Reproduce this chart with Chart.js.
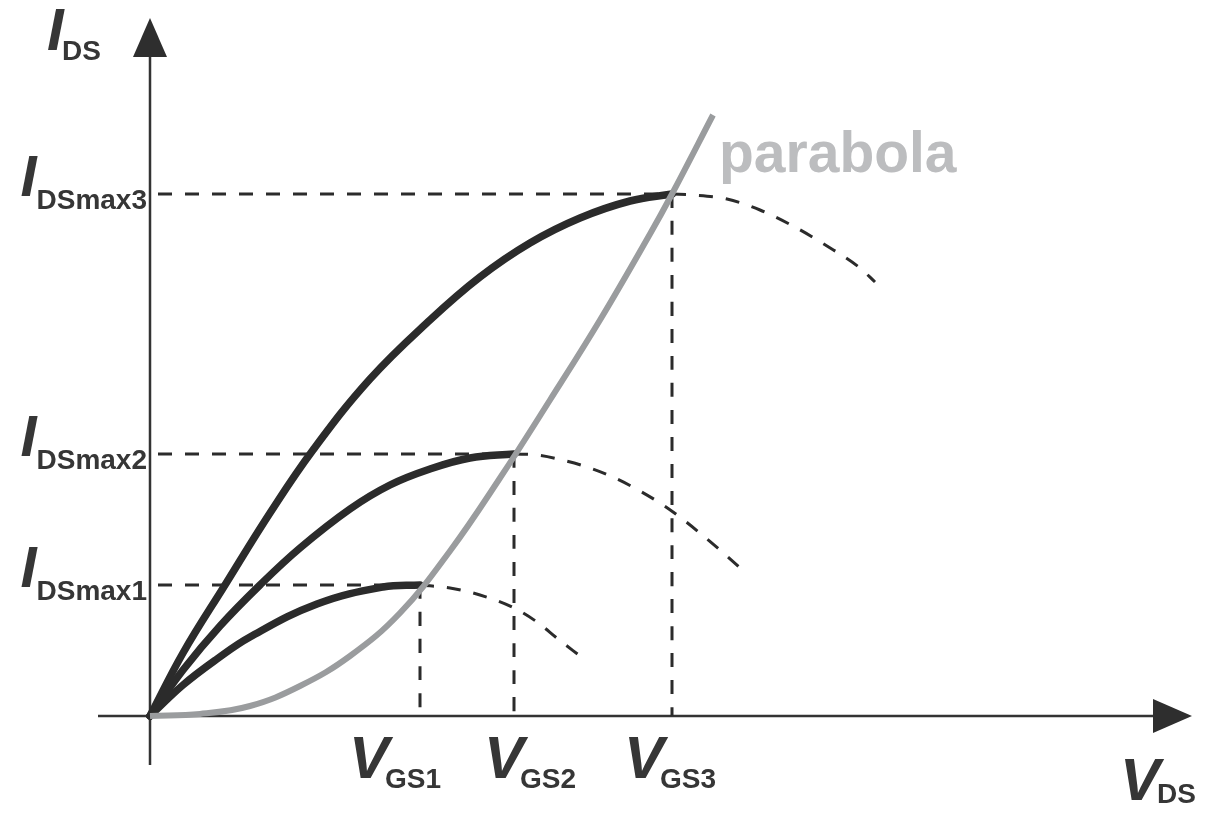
<!DOCTYPE html>
<html>
<head>
<meta charset="utf-8">
<script src="https://cdn.jsdelivr.net/npm/chart.js@4.4.1/dist/chart.umd.min.js"></script>
<style>
  html, body { margin: 0; padding: 0; background: #ffffff; }
  #wrap { width: 1214px; height: 815px; }
</style>
</head>
<body>
<div id="wrap"><canvas id="c" width="1214" height="815"></canvas></div>
<script>
// Operating points: gate voltages and the saturation currents they reach
const vgsValues    = [2.70, 3.64, 5.22];
const idsMaxValues = [1.31, 2.62, 5.22];
const vgsTickLabels = ['GS1', 'GS2', 'GS3'];
const idsTickLabels = ['DSmax1', 'DSmax2', 'DSmax3'];
const xAxisTitle = ['V', 'DS'];
const yAxisTitle = ['I', 'DS'];
const curveTitle = 'parabola';
const vdsRange = [-0.52, 10.42];
const idsRange = [-0.49, 6.98];

// Triode-region characteristics (solid part up to the peak)
const curve1V = [0, 0.33, 0.67, 1.00, 1.67, 2.33, 2.70];
const curve1I = [0, 0.31, 0.57, 0.79, 1.12, 1.29, 1.31];
const curve2V = [0, 0.33, 0.70, 1.10, 1.50, 2.00, 2.40, 2.80, 3.20, 3.64];
const curve2I = [0, 0.46, 0.90, 1.31, 1.68, 2.07, 2.31, 2.47, 2.58, 2.62];
const curve3V = [0, 0.33, 0.75, 1.20, 1.63, 2.20, 2.80, 3.30, 3.80, 4.30, 4.80, 5.22];
const curve3I = [0, 0.63, 1.31, 2.03, 2.66, 3.37, 3.96, 4.39, 4.73, 4.98, 5.15, 5.22];

// Continuation of each characteristic past its peak (dashed)
const tail1V = [2.70, 3.00, 3.30, 3.62, 3.87, 4.08, 4.30];
const tail1I = [1.31, 1.28, 1.21, 1.09, 0.94, 0.77, 0.60];
const tail2V = [3.64, 3.87, 4.12, 4.40, 4.65, 4.90, 5.13, 5.35, 5.57, 5.78, 5.98];
const tail2I = [2.62, 2.61, 2.56, 2.48, 2.38, 2.25, 2.11, 1.95, 1.77, 1.59, 1.41];
const tail3V = [5.22, 5.43, 5.77, 6.10, 6.43, 6.77, 7.10, 7.25];
const tail3I = [5.22, 5.21, 5.17, 5.06, 4.90, 4.70, 4.48, 4.34];

// Saturation boundary
const parabolaV = [0, 0.50, 1.00, 1.50, 2.00, 2.50, 3.00, 3.50, 4.00, 4.50, 5.00, 5.22, 5.63];
const parabolaI = [0, 0.02, 0.10, 0.30, 0.60, 1.03, 1.65, 2.38, 3.16, 3.96, 4.82, 5.22, 6.01];

const INK = '#2b2b2b';
const GREY = '#9a9c9e';
const TEXT = '#363636';

const pts = (xs, ys) => xs.map((x, i) => ({ x, y: ys[i] }));

function solid(xs, ys) {
  return {
    data: pts(xs, ys), showLine: true, borderColor: INK, borderWidth: 7.5,
    pointRadius: 0, tension: 0.4, borderCapStyle: 'round', borderJoinStyle: 'round',
    fill: false, clip: false, order: 2
  };
}
function dashed(data) {
  return {
    data, showLine: true, borderColor: INK, borderWidth: 3, borderDash: [14, 13],
    pointRadius: 0, cubicInterpolationMode: 'monotone', fill: false, clip: false, order: 3
  };
}

const datasets = [];
// guide lines to the axes
vgsValues.forEach((v, i) => {
  datasets.push(dashed([{ x: 0.08, y: idsMaxValues[i] }, { x: v, y: idsMaxValues[i] }]));
  datasets.push(dashed([{ x: v, y: idsMaxValues[i] }, { x: v, y: 0 }]));
});
datasets.push(dashed(pts(tail1V, tail1I)));
datasets.push(dashed(pts(tail2V, tail2I)));
datasets.push(dashed(pts(tail3V, tail3I)));
datasets.push(solid(curve1V, curve1I));
datasets.push(solid(curve2V, curve2I));
datasets.push(solid(curve3V, curve3I));
datasets.push({
  data: pts(parabolaV, parabolaI), showLine: true, borderColor: GREY, borderWidth: 6,
  pointRadius: 0, tension: 0.4, fill: false, clip: false, order: 1
});

// Axes with arrow heads, plus all axis and curve labels
const annotate = {
  id: 'annotate',
  beforeDatasetsDraw(chart) {
    const { ctx, scales: { x, y } } = chart;
    const ox = x.getPixelForValue(0), oy = y.getPixelForValue(0);
    const xL = x.getPixelForValue(vdsRange[0]), xR = x.getPixelForValue(vdsRange[1]);
    const yB = y.getPixelForValue(idsRange[0]), yT = y.getPixelForValue(idsRange[1]);
    ctx.save();
    ctx.strokeStyle = '#333333';
    ctx.fillStyle = '#2e2e2e';
    ctx.lineWidth = 2.5;
    ctx.beginPath();
    ctx.moveTo(xL, oy); ctx.lineTo(xR - 30, oy);
    ctx.moveTo(ox, yB); ctx.lineTo(ox, yT + 30);
    ctx.stroke();
    ctx.beginPath();
    ctx.moveTo(xR, oy); ctx.lineTo(xR - 39, oy - 17); ctx.lineTo(xR - 39, oy + 17); ctx.closePath();
    ctx.fill();
    ctx.beginPath();
    ctx.moveTo(ox, yT); ctx.lineTo(ox - 17, yT + 39); ctx.lineTo(ox + 17, yT + 39); ctx.closePath();
    ctx.fill();
    ctx.restore();
  },
  afterDatasetsDraw(chart) {
    const { ctx, scales: { x, y } } = chart;
    const ox = x.getPixelForValue(0), oy = y.getPixelForValue(0);
    const big = (s) => `italic bold ${s}px "Liberation Sans", Arial, sans-serif`;
    const sub = 'bold 28px "Liberation Sans", Arial, sans-serif';
    ctx.save();
    ctx.fillStyle = TEXT;
    ctx.textBaseline = 'alphabetic';

    // current levels on the vertical axis
    idsTickLabels.forEach((t, i) => {
      const py = y.getPixelForValue(idsMaxValues[i]);
      ctx.font = sub; ctx.textAlign = 'right';
      ctx.fillText(t, ox - 3, py + 15);
      const left = ox - 3 - ctx.measureText(t).width;
      ctx.font = big(58); ctx.textAlign = 'right';
      ctx.fillText(yAxisTitle[0], left, py + 2);
    });

    // gate voltages on the horizontal axis
    const vShift = [-68, -27, -45];
    vgsTickLabels.forEach((t, i) => {
      const px = x.getPixelForValue(vgsValues[i]) + vShift[i];
      ctx.textAlign = 'left';
      ctx.font = big(60);
      ctx.fillText(xAxisTitle[0], px - 3, oy + 62);
      ctx.font = sub;
      ctx.fillText(t, px + 33, oy + 72);
    });

    // axis titles
    ctx.textAlign = 'left';
    ctx.font = big(60);
    ctx.fillText(yAxisTitle[0], ox - 103, 50);
    ctx.font = sub;
    ctx.fillText(yAxisTitle[1], ox - 88, 60);

    ctx.font = big(60);
    ctx.fillText(xAxisTitle[0], x.getPixelForValue(vdsRange[1]) - 72, oy + 84);
    ctx.font = sub;
    ctx.fillText(xAxisTitle[1], x.getPixelForValue(vdsRange[1]) - 35, oy + 87);

    // curve name beside the parabola's end
    ctx.fillStyle = '#bcbdbf';
    ctx.font = 'bold 57px "Liberation Sans", Arial, sans-serif';
    const last = parabolaV.length - 1;
    ctx.fillText(curveTitle, x.getPixelForValue(parabolaV[last]) + 6, y.getPixelForValue(parabolaI[last]) + 57);
    ctx.restore();
  }
};

new Chart(document.getElementById('c'), {
  type: 'scatter',
  data: { datasets },
  options: {
    responsive: false,
    animation: false,
    devicePixelRatio: 1,
    layout: { padding: { left: 98, right: 22, top: 18, bottom: 50 } },
    plugins: { legend: { display: false }, tooltip: { enabled: false } },
    scales: {
      x: { type: 'linear', min: vdsRange[0], max: vdsRange[1], display: false },
      y: { type: 'linear', min: idsRange[0], max: idsRange[1], display: false }
    }
  },
  plugins: [annotate]
});
</script>
</body>
</html>
